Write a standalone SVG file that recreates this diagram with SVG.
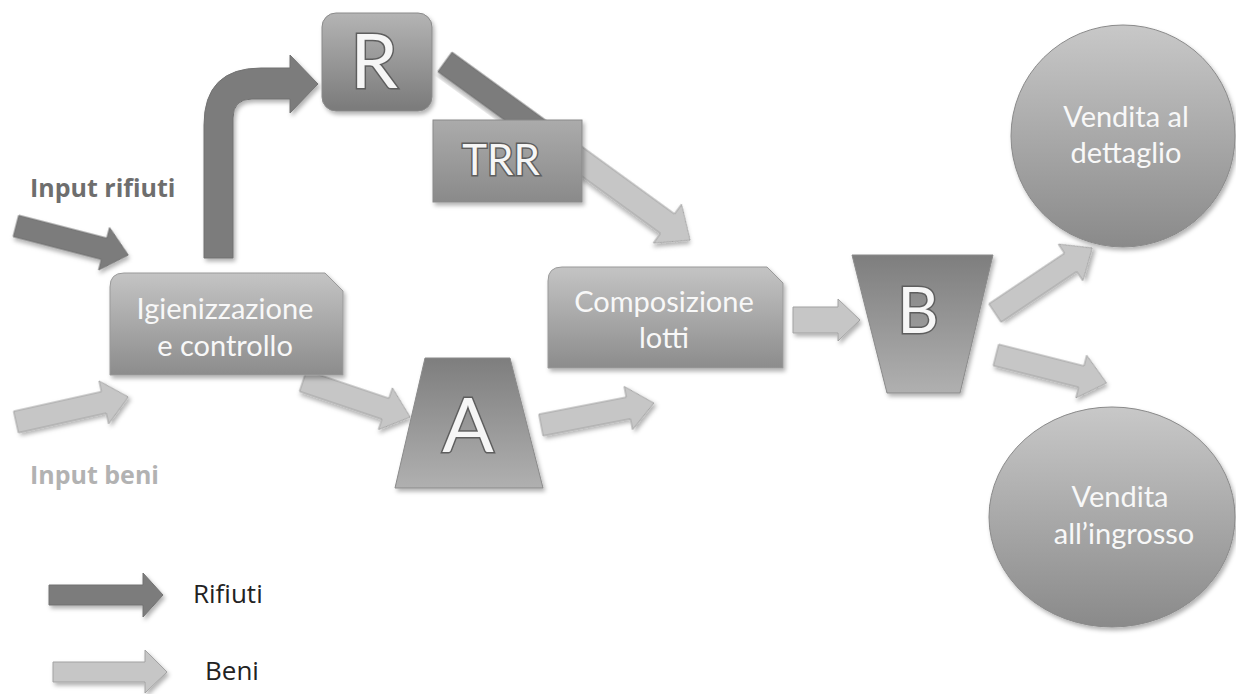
<svg xmlns="http://www.w3.org/2000/svg" width="1236" height="694" viewBox="0 0 1236 694">
<style>
.dark{fill:#7b7b7b;stroke:#737373;stroke-width:1}
.light{fill:#c6c6c6;stroke:#a2a2a2;stroke-width:1}
.lbl{font-family:Lato,"Open Sans","Liberation Sans",sans-serif;fill:#f8f8f8;text-anchor:middle;font-size:29px}
.big{font-family:Lato,"Open Sans","Liberation Sans",sans-serif;fill:#f6f6f6;stroke:#5e5e5e;stroke-width:3;paint-order:stroke;text-anchor:middle}
.inp{font-family:"Open Sans",Lato,"Liberation Sans",sans-serif;font-weight:bold;font-size:25px}
.leg{font-family:"Open Sans",Lato,"Liberation Sans",sans-serif;font-size:26px;fill:#222}
</style>
<defs>
<linearGradient id="gBox" x1="0" y1="0" x2="0" y2="1"><stop offset="0" stop-color="#c4c4c4"/><stop offset="1" stop-color="#8c8c8c"/></linearGradient>
<linearGradient id="gR" x1="0" y1="0" x2="0" y2="1"><stop offset="0" stop-color="#b4b4b4"/><stop offset="1" stop-color="#7a7a7a"/></linearGradient>
<linearGradient id="gTRR" x1="0" y1="0" x2="0" y2="1"><stop offset="0" stop-color="#ababab"/><stop offset="1" stop-color="#8a8a8a"/></linearGradient>
<linearGradient id="gTrap" x1="0" y1="0" x2="0" y2="1"><stop offset="0" stop-color="#7e7e7e"/><stop offset="1" stop-color="#b0b0b0"/></linearGradient>
<linearGradient id="gCirc" x1="0" y1="0" x2="0" y2="1"><stop offset="0" stop-color="#c8c8c8"/><stop offset="1" stop-color="#8a8a8a"/></linearGradient>
<filter id="sh" x="-10%" y="-10%" width="125%" height="130%"><feDropShadow dx="2" dy="3" stdDeviation="2" flood-color="#000" flood-opacity="0.3"/></filter>
</defs>

<g id="connectors">
  <!-- Input rifiuti -->
  <polygon class="dark" filter="url(#sh)" transform="translate(16,226) rotate(14.5)" points="0,-11 91,-11 91,-22 116,0 91,22 91,11 0,11"/>
  <!-- Input beni -->
  <polygon class="light" filter="url(#sh)" transform="translate(16,422) rotate(-12.6)" points="0,-11 90,-11 90,-22 115,0 90,22 90,11 0,11"/>
  <!-- bent arrow to R -->
  <path class="dark" filter="url(#sh)" d="M204,258 L204,125 Q204,68 261,68 L290,68 L290,55 L318,84 L290,113 L290,99 L252,99 Q233,99 233,118 L233,258 Z"/>
  <!-- R to TRR (dark part) -->
  <polygon class="dark" filter="url(#sh)" transform="translate(445,62) rotate(36)" points="0,-12 140,-12 140,12 0,12"/>
  <!-- TRR to Composizione (light part) -->
  <polygon class="light" filter="url(#sh)" transform="translate(445,62) rotate(36)" points="140,-12 275,-12 275,-24 303,0 275,24 275,12 140,12"/>
  <!-- Igienizzazione to A -->
  <polygon class="light" filter="url(#sh)" transform="translate(303,381) rotate(18.6)" points="0,-11 87,-11 87,-22 113,0 87,22 87,11 0,11"/>
  <!-- A to Composizione -->
  <polygon class="light" filter="url(#sh)" transform="translate(541,425) rotate(-11)" points="0,-11 89,-11 89,-22 115,0 89,22 89,11 0,11"/>
  <!-- Composizione to B -->
  <polygon class="light" filter="url(#sh)" transform="translate(793,320) rotate(0)" points="0,-13 45,-13 45,-21 67,0 45,21 45,13 0,13"/>
  <!-- B to dettaglio -->
  <polygon class="light" filter="url(#sh)" transform="translate(995,313) rotate(-33.8)" points="0,-11 91,-11 91,-22 117,0 91,22 91,11 0,11"/>
  <!-- B to ingrosso -->
  <polygon class="light" filter="url(#sh)" transform="translate(996,355) rotate(14.2)" points="0,-11 88,-11 88,-22 114,0 88,22 88,11 0,11"/>
</g>

<g id="node-igienizzazione">
  <path filter="url(#sh)" fill="url(#gBox)" stroke="#9a9a9a" stroke-width="1" d="M110,287 Q110,273 124,273 L325,273 L343,291 L343,375 L110,375 Z"/>
  <text class="lbl" x="225" y="319">Igienizzazione</text>
  <text class="lbl" x="225" y="356">e controllo</text>
</g>

<g id="node-R">
  <rect filter="url(#sh)" x="322" y="13" width="110" height="98" rx="14" fill="url(#gR)" stroke="#8a8a8a" stroke-width="1"/>
  <text class="big" x="374" y="88" font-size="76">R</text>
</g>

<g id="node-TRR">
  <rect filter="url(#sh)" x="433" y="120" width="149" height="82" fill="url(#gTRR)" stroke="#8a8a8a" stroke-width="1"/>
  <text class="big" x="501" y="175" font-size="42" stroke-width="2.5">TRR</text>
</g>

<g id="node-A">
  <polygon filter="url(#sh)" points="425,358 510,358 543,488 395,488" fill="url(#gTrap)" stroke="#8a8a8a" stroke-width="1"/>
  <text class="big" x="468" y="452" font-size="76">A</text>
</g>

<g id="node-composizione">
  <path filter="url(#sh)" fill="url(#gBox)" stroke="#9a9a9a" stroke-width="1" d="M548,281 Q548,267 562,267 L767,267 L783,283 L783,368 L548,368 Z"/>
  <text class="lbl" x="664" y="312">Composizione</text>
  <text class="lbl" x="664" y="348">lotti</text>
</g>

<g id="node-B">
  <polygon filter="url(#sh)" points="852,255 993,255 960,393 887,393" fill="url(#gTrap)" stroke="#8a8a8a" stroke-width="1"/>
  <text class="big" x="918" y="333" font-size="64">B</text>
</g>

<g id="node-dettaglio">
  <ellipse filter="url(#sh)" cx="1123" cy="136" rx="112" ry="111" fill="url(#gCirc)" stroke="#8a8a8a" stroke-width="1"/>
  <text class="lbl" x="1126" y="127">Vendita al</text>
  <text class="lbl" x="1126" y="163">dettaglio</text>
</g>

<g id="node-ingrosso">
  <ellipse filter="url(#sh)" cx="1112" cy="517" rx="123" ry="110" fill="url(#gCirc)" stroke="#8a8a8a" stroke-width="1"/>
  <text class="lbl" x="1120" y="507">Vendita</text>
  <text class="lbl" x="1124" y="544">all’ingrosso</text>
</g>

<g id="labels">
  <text class="inp" x="30" y="197" fill="#6e6e6e">Input rifiuti</text>
  <text class="inp" x="30" y="484" fill="#b2b2b2">Input beni</text>
</g>

<g id="legend">
  <polygon class="dark" filter="url(#sh)" points="49,585 143,585 143,573 163,595 143,617 143,605 49,605"/>
  <text class="leg" x="193" y="603">Rifiuti</text>
  <polygon class="light" filter="url(#sh)" points="53,662 145,662 145,650 167,672 145,693 145,682 53,682"/>
  <text class="leg" x="205" y="680">Beni</text>
</g>
</svg>
